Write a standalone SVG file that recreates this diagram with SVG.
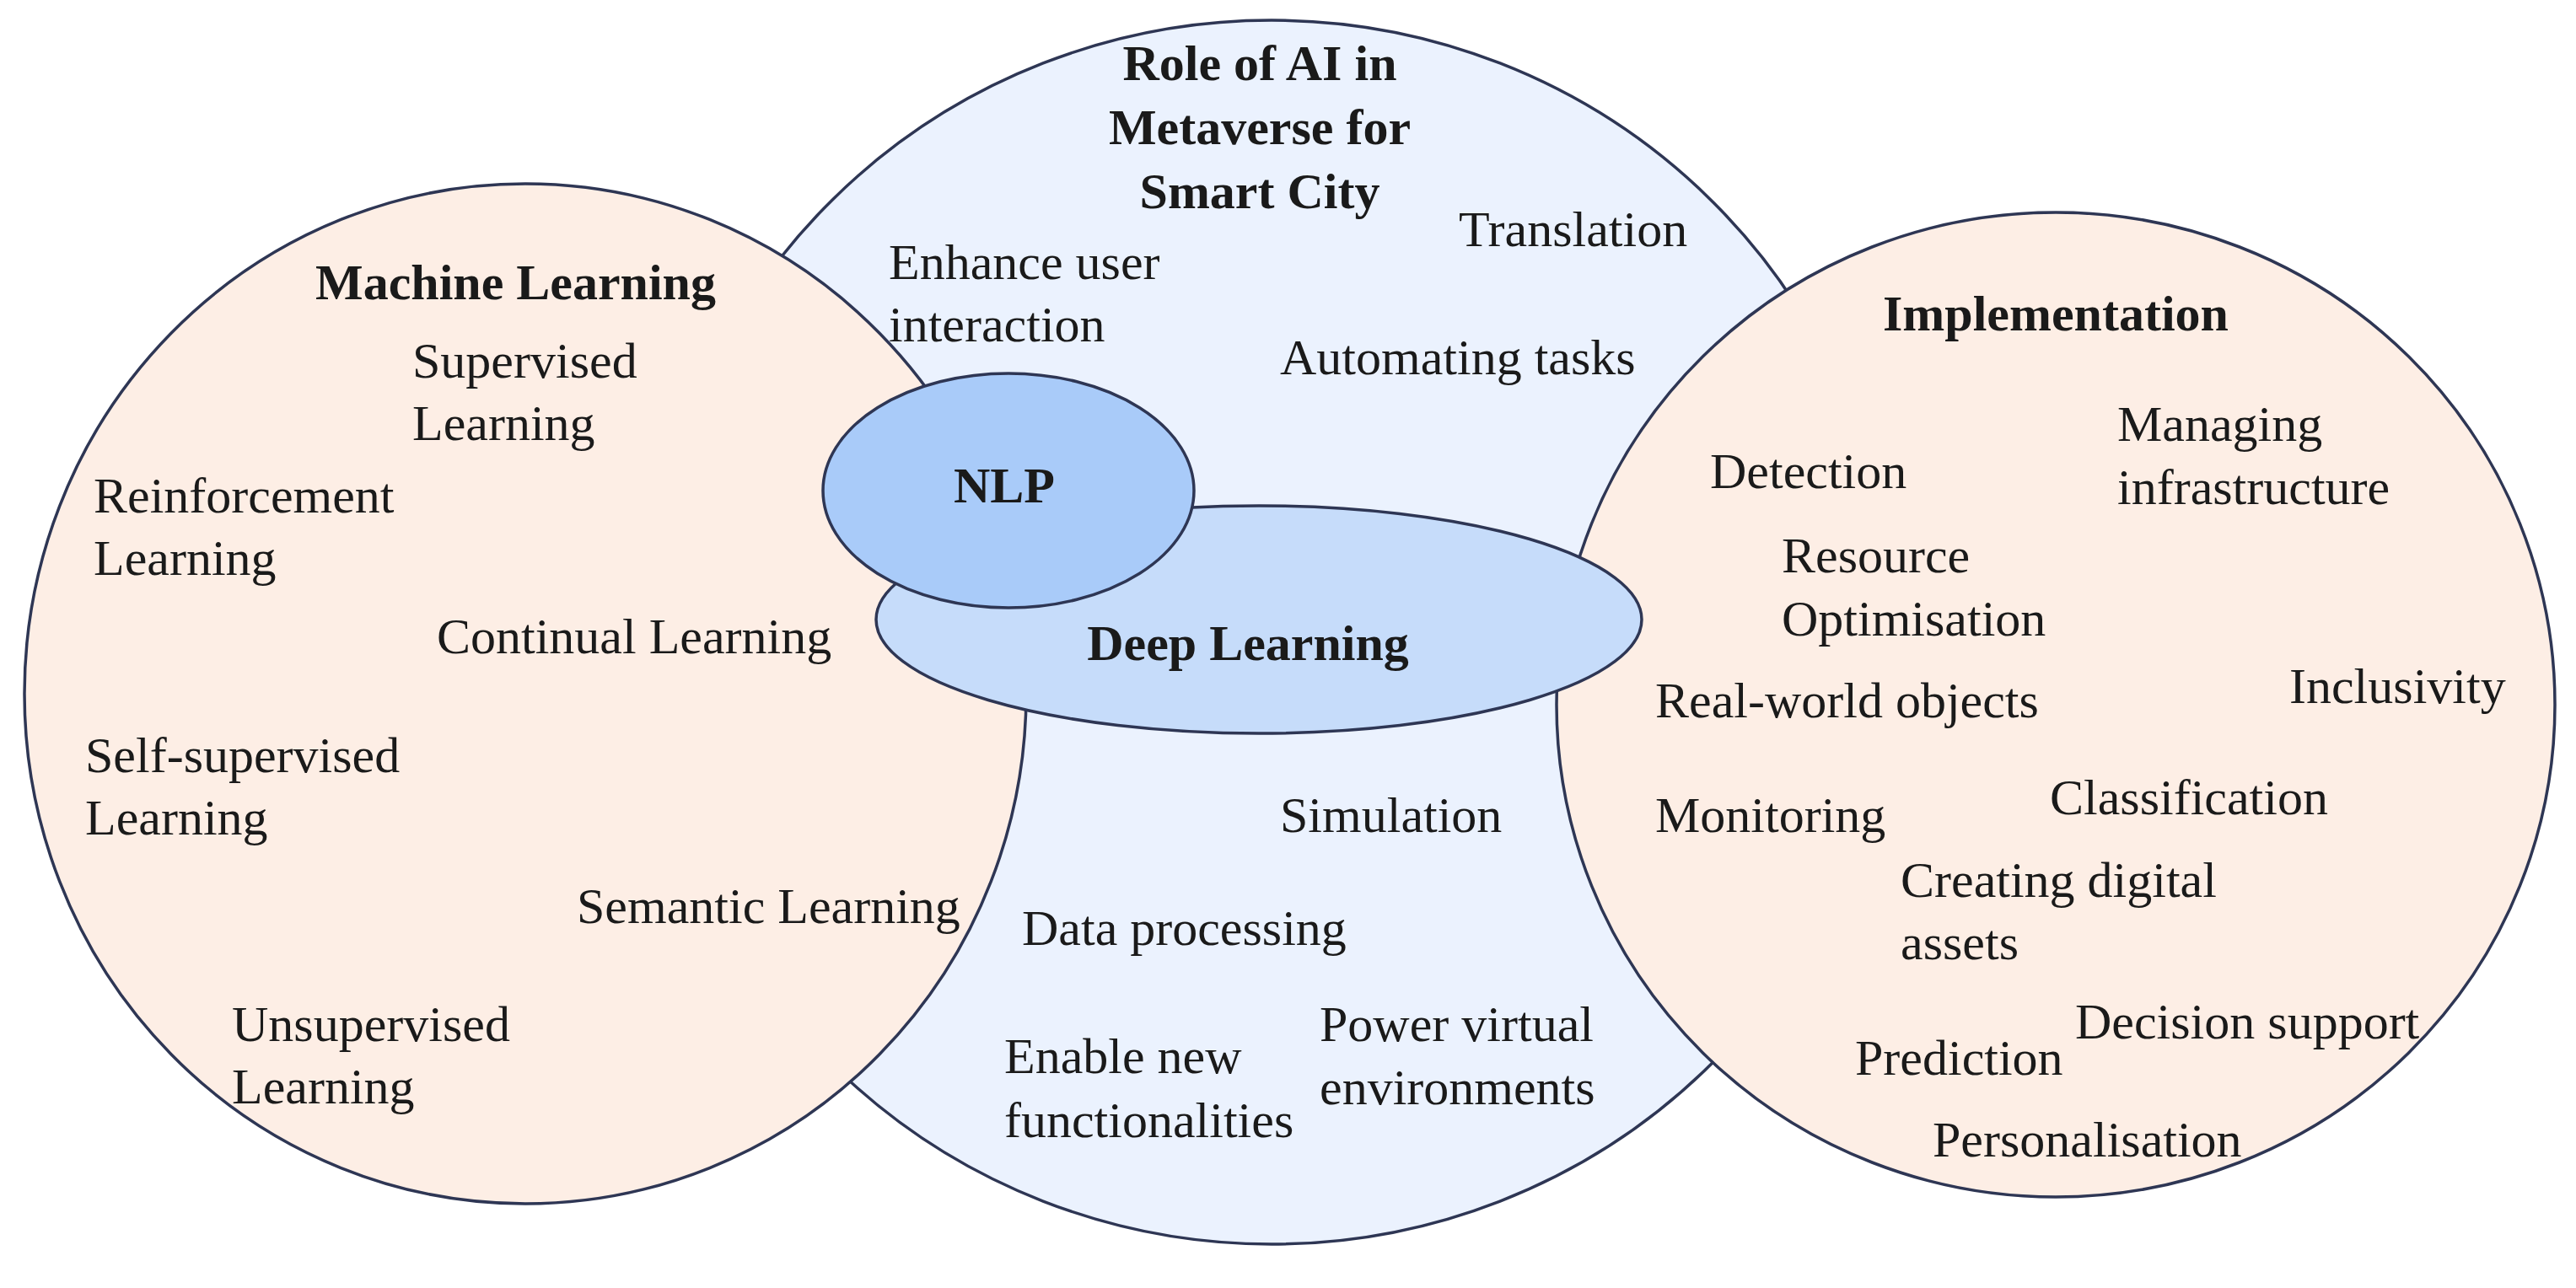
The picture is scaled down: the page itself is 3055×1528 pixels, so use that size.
<svg xmlns="http://www.w3.org/2000/svg" width="3055" height="1528" viewBox="0 0 3055 1528">
<style>
.sh{stroke:#2E3654;stroke-width:3.5}
.pink{fill:#FDEEE5}
.pale{fill:#EBF2FE}
.nlp{fill:#A9CBF9}
.dl{fill:#C6DCFA}
text{font-family:"Liberation Serif","Times New Roman",serif;font-size:60px;fill:#1A1A1A}
.b{font-weight:bold}
.m{text-anchor:middle}
</style>
<rect width="3055" height="1528" fill="#FFFFFF"/>
<g id="role-of-ai">
<ellipse class="sh pale" cx="1508" cy="750" rx="736" ry="726"/>
<text class="b m" x="1494" y="95">Role of AI in</text>
<text class="b m" x="1494" y="171">Metaverse for</text>
<text class="b m" x="1494" y="247">Smart City</text>
<text x="1054" y="331">Enhance user</text>
<text x="1054" y="405">interaction</text>
<text x="1730" y="292">Translation</text>
<text x="1518" y="444">Automating tasks</text>
<text x="1518" y="987">Simulation</text>
<text x="1212" y="1121">Data processing</text>
<text x="1191" y="1273">Enable new</text>
<text x="1191" y="1349">functionalities</text>
<text x="1565" y="1235">Power virtual</text>
<text x="1565" y="1310">environments</text>
</g>
<g id="machine-learning">
<ellipse class="sh pink" cx="623" cy="823" rx="594" ry="605"/>
<text class="b" x="374" y="355">Machine Learning</text>
<text x="489" y="448">Supervised</text>
<text x="489" y="522">Learning</text>
<text x="111" y="608">Reinforcement</text>
<text x="111" y="682">Learning</text>
<text x="518" y="775">Continual Learning</text>
<text x="101" y="916">Self-supervised</text>
<text x="101" y="990">Learning</text>
<text x="684" y="1095">Semantic Learning</text>
<text x="275" y="1235">Unsupervised</text>
<text x="275" y="1309">Learning</text>
</g>
<g id="implementation">
<ellipse class="sh pink" cx="2438" cy="836" rx="592" ry="584"/>
<text class="b" x="2233" y="392">Implementation</text>
<text x="2511" y="523">Managing</text>
<text x="2511" y="598">infrastructure</text>
<text x="2028" y="579">Detection</text>
<text x="2113" y="679">Resource</text>
<text x="2113" y="754">Optimisation</text>
<text x="1963" y="851">Real-world objects</text>
<text x="2715" y="834">Inclusivity</text>
<text x="1963" y="987">Monitoring</text>
<text x="2431" y="966">Classification</text>
<text x="2254" y="1064">Creating digital</text>
<text x="2254" y="1138">assets</text>
<text x="2461" y="1232">Decision support</text>
<text x="2200" y="1275">Prediction</text>
<text x="2292" y="1372">Personalisation</text>
</g>
<g id="deep-learning">
<ellipse class="sh dl" cx="1493" cy="735" rx="454" ry="135"/>
<text class="b m" x="1480" y="783">Deep Learning</text>
</g>
<g id="nlp">
<ellipse class="sh nlp" cx="1196" cy="582" rx="220" ry="139"/>
<text class="b m" x="1191" y="596">NLP</text>
</g>
<g id="connectors"/>
</svg>
